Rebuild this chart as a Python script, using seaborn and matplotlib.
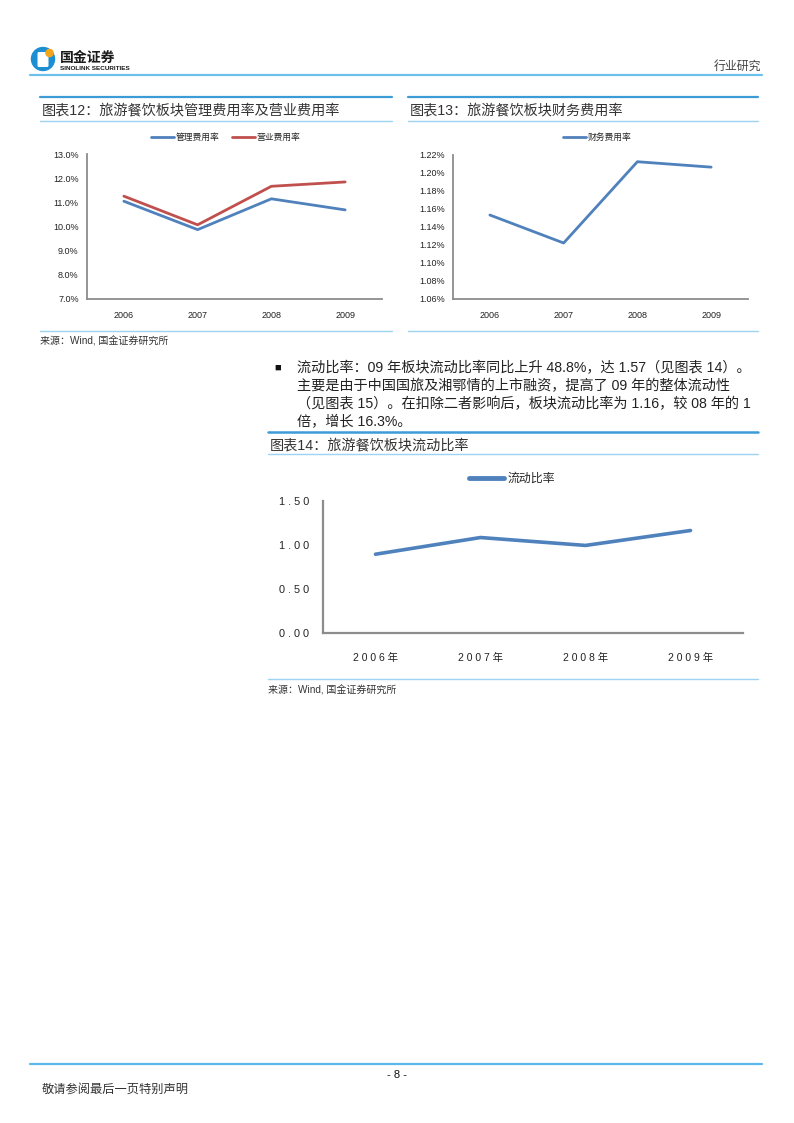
import matplotlib
matplotlib.use("Agg")
import matplotlib.pyplot as plt
from matplotlib.lines import Line2D
from matplotlib.patches import Circle, FancyBboxPatch
from matplotlib.ticker import FuncFormatter
import pandas as pd
import seaborn as sns

# ---------------------------------------------------------------------------
# Data
# ---------------------------------------------------------------------------
years = ["2006", "2007", "2008", "2009"]
mgmt_rate = [11.06, 9.88, 11.16, 10.70]      # 管理费用率 (%)
sales_rate = [11.27, 10.08, 11.68, 11.86]    # 营业费用率 (%)
fin_rate = [1.153, 1.122, 1.212, 1.206]      # 财务费用率 (%)
year_labels_cn = ["2006年", "2007年", "2008年", "2009年"]
current_ratio = [0.90, 1.09, 1.00, 1.17]     # 流动比率

BLUE = "#4F81BD"
RED = "#C0504D"
RULE = "#3D9BD8"
RULE_LIGHT = "#9ED3F2"
SPINE = "#8C8C8C"
FONTS = ["Liberation Sans", "Noto Sans CJK SC", "DejaVu Sans"]

sns.set_theme(style="white")
plt.rcParams["font.family"] = FONTS

W, H = 794, 1123
fig = plt.figure(figsize=(W / 100, H / 100), dpi=100)


def px_axes(x0, y0, x1, y1):
    """Axes from pixel box (top-left origin)."""
    return fig.add_axes([x0 / W, 1 - y1 / H, (x1 - x0) / W, (y1 - y0) / H])


def hline(x0, x1, y, color, lw):
    fig.add_artist(Line2D([x0 / W, x1 / W], [1 - y / H, 1 - y / H],
                          color=color, lw=lw, transform=fig.transFigure))


def text(x, y, s, **kw):
    kw.setdefault("va", "center")
    kw.setdefault("color", "#222222")
    fig.text(x / W, 1 - y / H, s, **kw)


def style_axes(ax):
    sns.despine(ax=ax)
    for side in ("left", "bottom"):
        ax.spines[side].set_color(SPINE)
        ax.spines[side].set_linewidth(1.3)
    ax.set_xlabel("")
    ax.set_ylabel("")
    ax.grid(False)


# ---------------------------------------------------------------------------
# Page header
# ---------------------------------------------------------------------------
logo = fig.add_axes([30 / W, 1 - 72 / H, 28 / W, 28 / H])
logo.set_xlim(0, 28)
logo.set_ylim(0, 28)
logo.axis("off")
logo.add_patch(Circle((13, 13), 11.5, color="#1B8FD2"))
logo.add_patch(FancyBboxPatch((9, 6.5), 8, 12, boxstyle="round,pad=0.8",
                              color="white"))
logo.add_patch(Circle((19.5, 19), 3.6, color="#F3A51B"))
text(60, 58, "国金证券", fontsize=10, fontweight="bold", color="#1a1a1a")
text(60, 68.5, "SINOLINK SECURITIES", fontsize=4.6, fontweight="bold",
     color="#1a1a1a")
text(761, 67, "行业研究", fontsize=8.6, ha="right", color="#444444")
hline(30, 762, 74.5, "#6CC0EE", 1.6)

# ---------------------------------------------------------------------------
# 图表12
# ---------------------------------------------------------------------------
hline(40, 392, 97, RULE, 1.6)
text(42, 110, "图表12：旅游餐饮板块管理费用率及营业费用率", fontsize=10.2,
     color="#333333")
hline(40, 392, 120.5, RULE_LIGHT, 1.0)

df12 = pd.DataFrame({
    "year": years * 2,
    "rate": mgmt_rate + sales_rate,
    "series": ["管理费用率"] * 4 + ["营业费用率"] * 4,
})
ax12 = px_axes(87, 154.5, 382, 299)
sns.lineplot(data=df12, x="year", y="rate", hue="series",
             palette=[BLUE, RED], linewidth=2.0, ax=ax12)
ax12.set_xlim(-0.5, 3.5)
ax12.set_ylim(7, 13)
ax12.set_yticks([7, 8, 9, 10, 11, 12, 13])
ax12.yaxis.set_major_formatter(FuncFormatter(lambda v, p: f"{v:.1f}%"))
ax12.tick_params(axis="y", labelsize=6.5, pad=6, length=0, colors="#222222")
ax12.tick_params(axis="x", labelsize=6.5, pad=9, length=0, colors="#222222")
style_axes(ax12)
ax12.legend(loc="lower center", bbox_to_anchor=(0.47, 1.06), ncol=2,
            frameon=False, fontsize=6.3, handlelength=2.6, handletextpad=0.2,
            columnspacing=1.4, borderaxespad=0)

hline(40, 392, 331, RULE_LIGHT, 1.0)
text(40, 341, "来源：Wind, 国金证券研究所", fontsize=7.2, color="#333333")

# ---------------------------------------------------------------------------
# 图表13
# ---------------------------------------------------------------------------
hline(408, 758, 97, RULE, 1.6)
text(410, 110, "图表13：旅游餐饮板块财务费用率", fontsize=10.2, color="#333333")
hline(408, 758, 120.5, RULE_LIGHT, 1.0)

df13 = pd.DataFrame({"year": years, "rate": fin_rate, "series": "财务费用率"})
ax13 = px_axes(453, 154.5, 748, 299)
sns.lineplot(data=df13, x="year", y="rate", hue="series", palette=[BLUE],
             linewidth=2.0, ax=ax13)
ax13.set_xlim(-0.5, 3.5)
ax13.set_ylim(1.06, 1.22)
ax13.set_yticks([1.06, 1.08, 1.10, 1.12, 1.14, 1.16, 1.18, 1.20, 1.22])
ax13.yaxis.set_major_formatter(FuncFormatter(lambda v, p: f"{v:.2f}%"))
ax13.tick_params(axis="y", labelsize=6.5, pad=6, length=0, colors="#222222")
ax13.tick_params(axis="x", labelsize=6.5, pad=9, length=0, colors="#222222")
style_axes(ax13)
ax13.legend(loc="lower center", bbox_to_anchor=(0.49, 1.06), ncol=1,
            frameon=False, fontsize=6.3, handlelength=2.6, handletextpad=0.2,
            borderaxespad=0)

hline(408, 758, 331, RULE_LIGHT, 1.0)

# ---------------------------------------------------------------------------
# Body paragraph
# ---------------------------------------------------------------------------
text(274, 368, "■", fontsize=8, color="#111111")
para = [
    "流动比率：09 年板块流动比率同比上升 48.8%，达 1.57（见图表 14）。",
    "主要是由于中国国旅及湘鄂情的上市融资，提高了 09 年的整体流动性",
    "（见图表 15）。在扣除二者影响后，板块流动比率为 1.16，较 08 年的 1",
    "倍，增长 16.3%。",
]
for i, line in enumerate(para):
    text(297, 368 + 18 * i, line, fontsize=10.2, color="#222222")

# ---------------------------------------------------------------------------
# 图表14
# ---------------------------------------------------------------------------
hline(268, 758, 432, RULE, 1.8)
text(270, 445, "图表14：旅游餐饮板块流动比率", fontsize=10.2, color="#333333")
hline(268, 758, 453.5, RULE_LIGHT, 1.0)

df14 = pd.DataFrame({"year": year_labels_cn, "ratio": current_ratio,
                     "series": "流动比率"})
ax14 = px_axes(323, 501.5, 743, 633.3)
sns.lineplot(data=df14, x="year", y="ratio", hue="series", palette=[BLUE],
             linewidth=2.6, ax=ax14)
ax14.set_xlim(-0.5, 3.5)
ax14.set_ylim(0, 1.5)
ax14.set_yticks([0, 0.5, 1.0, 1.5])
ax14.yaxis.set_major_formatter(
    FuncFormatter(lambda v, p: " ".join(f"{v:.2f}")))
ax14.set_xticks(range(len(year_labels_cn)))
ax14.set_xticklabels([" ".join(s) for s in year_labels_cn])
ax14.tick_params(axis="y", labelsize=7.8, pad=10, length=0, colors="#222222")
ax14.tick_params(axis="x", labelsize=7.5, pad=14, length=0, colors="#222222")
style_axes(ax14)
ax14.spines["left"].set_linewidth(1.6)
ax14.spines["bottom"].set_linewidth(1.6)
ax14.legend(loc="lower center", bbox_to_anchor=(0.45, 1.09), ncol=1,
            frameon=False, fontsize=8.6, handlelength=3.0, handletextpad=0.3,
            borderaxespad=0)
for lh in ax14.get_legend().get_lines():
    lh.set_linewidth(3.5)

hline(268, 758, 679, RULE_LIGHT, 1.0)
text(268, 690, "来源：Wind, 国金证券研究所", fontsize=7.2, color="#333333")

# ---------------------------------------------------------------------------
# Footer
# ---------------------------------------------------------------------------
hline(30, 762, 1064, "#5BB8EC", 1.6)
text(397, 1075, "- 8 -", fontsize=8, ha="center", color="#111111")
text(42, 1090, "敬请参阅最后一页特别声明", fontsize=8.8, color="#333333")

fig.savefig("out.png", dpi=100)
